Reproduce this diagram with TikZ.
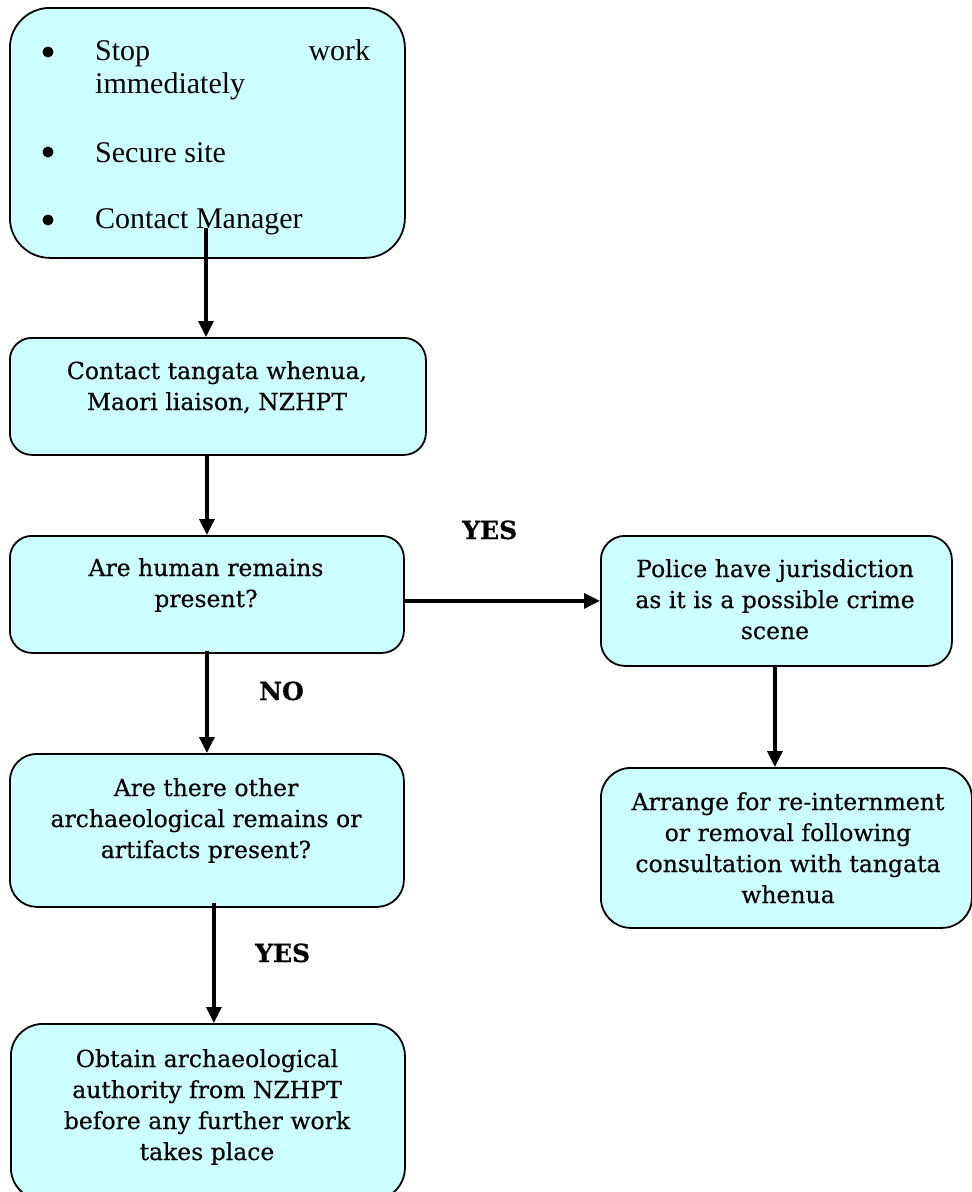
\documentclass[tikz,border=0pt]{standalone}
\usepackage{fontspec}
\setmainfont[FakeBold=0.4]{DejaVu Serif}
\newfontfamily\tnr{Liberation Serif}
\usetikzlibrary{arrows.meta}
\definecolor{boxfill}{HTML}{CCFFFF}
\tikzset{
  flowbox/.style={draw=black, line width=1.8pt, fill=boxfill, rectangle, inner sep=0pt, anchor=north west},
  boxtext/.style={anchor=base, inner sep=0pt, font=\fontsize{23.5}{31}\selectfont},
  bultext/.style={anchor=base west, inner sep=0pt, font=\tnr\fontsize{30}{33}\selectfont},
  bulmark/.style={circle, fill=black, inner sep=0pt, minimum size=11pt},
  yesno/.style={anchor=base west, inner sep=0pt, font=\bfseries\fontsize{25}{30}\selectfont},
  arr/.style={line width=3.3pt, -{Triangle[length=16pt,width=15pt]}}
}
\newcommand{\boxlines}[2]{\parbox[t]{#1}{\centering\fontsize{23.5}{31}\selectfont #2}}
\begin{document}
\begin{tikzpicture}[x=1pt,y=-1pt]
\useasboundingbox (0,0) rectangle (972,1192);
\clip (0,0) rectangle (972,1192);
% boxes
\node[flowbox, rounded corners=40pt, minimum width=395pt, minimum height=250pt] (b1) at (9,7) {};
\node[flowbox, rounded corners=22pt, minimum width=416pt, minimum height=117pt] (b2) at (9,337) {};
\node[flowbox, rounded corners=22pt, minimum width=394pt, minimum height=117pt] (b3) at (9,535) {};
\node[flowbox, rounded corners=24pt, minimum width=351pt, minimum height=130pt] (b4) at (600,535) {};
\node[flowbox, rounded corners=27pt, minimum width=394pt, minimum height=153pt] (b5) at (9,753) {};
\node[flowbox, rounded corners=30pt, minimum width=371pt, minimum height=160pt] (b7) at (600,767) {};
\node[flowbox, rounded corners=32pt, minimum width=394pt, minimum height=176pt] (b6) at (10,1023) {};
% box 1 contents
\node[bulmark] (m1) at (48,52) {};
\node[bulmark] (m2) at (48,152) {};
\node[bulmark] (m3) at (48,220) {};
\node[bultext] (i1) at (95,60) {\parbox[t]{275pt}{\fontsize{30}{33}\selectfont Stop\hfill work\\immediately}};
\node[bultext] (i2) at (95,162) {Secure site};
\node[bultext] (i3) at (95,228) {Contact Manager};
% texts
\node[boxtext] (t2) at (217,379) {\boxlines{400pt}{Contact tangata whenua,\\Maori liaison, NZHPT}};
\node[boxtext] (t3) at (206,576) {\boxlines{380pt}{Are human remains\\present?}};
\node[boxtext] (t4) at (775,577) {\boxlines{340pt}{Police have jurisdiction\\as it is a possible crime\\scene}};
\node[boxtext] (t5) at (206,796) {\boxlines{380pt}{Are there other\\archaeological remains or\\artifacts present?}};
\node[boxtext] (t7) at (788,810) {\boxlines{360pt}{Arrange for re-internment\\or removal following\\consultation with tangata\\whenua}};
\node[boxtext] (t6) at (207,1067) {\boxlines{380pt}{Obtain archaeological\\authority from NZHPT\\before any further work\\takes place}};
% labels
\node[yesno] (yes1) at (462,539) {YES};
\node[yesno] (no1) at (259,700) {NO};
\node[yesno] (yes2) at (255,962) {YES};
% connectors
\coordinate (s1) at (206,228);
\draw[arr] (s1) -- (s1 |- b2.north);
\draw[arr] (b3.north |- b2.south) -- (b3.north);
\draw[arr] (b4.west -| b3.east) -- (b4.west);
\draw[arr] ([yshift=3pt]b3.south) -- (b5.north);
\draw[arr] ([xshift=7pt,yshift=5pt]b5.south) -- ([xshift=6pt]b6.north);
\draw[arr] ([xshift=-1.5pt]b4.south) -- ([xshift=-1.5pt]b4.south |- b7.north);
\end{tikzpicture}
\end{document}
